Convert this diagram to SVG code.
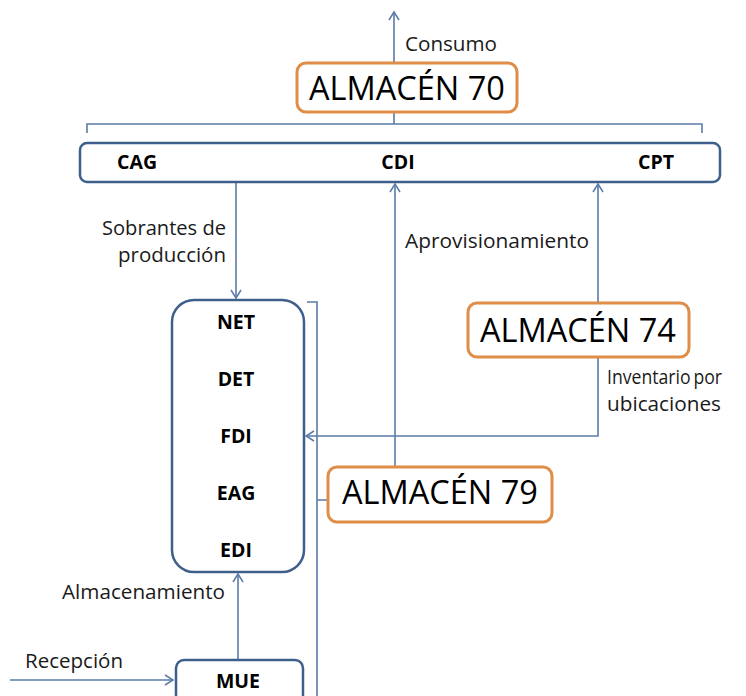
<svg xmlns="http://www.w3.org/2000/svg" width="746" height="696" viewBox="0 0 746 696">
  <defs>
    <marker id="arrow" markerUnits="userSpaceOnUse" markerWidth="14" markerHeight="14" refX="10" refY="6" orient="auto">
      <path d="M2,1 L10,6 L2,11" fill="none" stroke="#5B7BA8" stroke-width="1.5"/>
    </marker>
    <style>
      .box { fill: #ffffff; stroke: #3F5F8B; stroke-width: 2.5; }
      .wh { fill: #ffffff; stroke: #E08D47; stroke-width: 3; }
      .conn { fill: none; stroke: #5B7BA8; stroke-width: 1.6; }
      .lbl { font-family: "Open Sans", "Noto Sans", sans-serif; font-size: 20px; fill: #1a1a1a; }
      .big { font-family: "Open Sans", "Noto Sans", sans-serif; font-size: 32.5px; fill: #000000; }
      .code { font-family: "Open Sans", "Noto Sans", sans-serif; font-size: 19.5px; font-weight: bold; fill: #000000; text-anchor: middle; }
    </style>
  </defs>

  <!-- connectors -->
  <g id="connectors">
    <path class="conn" d="M394,63 V12" marker-end="url(#arrow)"/>
    <path class="conn" d="M87,133 V124 H702 V133 M394,124 V112"/>
    <path class="conn" d="M236,182 V298" marker-end="url(#arrow)"/>
    <path class="conn" d="M395,467 V184" marker-end="url(#arrow)"/>
    <path class="conn" d="M598,303 V184" marker-end="url(#arrow)"/>
    <path class="conn" d="M598,357 V436 H306" marker-end="url(#arrow)"/>
    <path class="conn" d="M307,302 H317 V696 M317,500 H328"/>
    <path class="conn" d="M238,660 V574" marker-end="url(#arrow)"/>
    <path class="conn" d="M10,680 H173" marker-end="url(#arrow)"/>
  </g>

  <!-- connector labels -->
  <g id="labels">
    <text class="lbl" x="405" y="51" textLength="92" lengthAdjust="spacingAndGlyphs">Consumo</text>
    <text class="lbl" x="102" y="235" textLength="124" lengthAdjust="spacingAndGlyphs">Sobrantes de</text>
    <text class="lbl" x="118" y="262" textLength="108" lengthAdjust="spacingAndGlyphs">producción</text>
    <text class="lbl" x="405" y="248" textLength="184" lengthAdjust="spacingAndGlyphs">Aprovisionamiento</text>
    <text class="lbl" x="607" y="384" style="font-size:19.5px; word-spacing:-2px" textLength="115" lengthAdjust="spacingAndGlyphs">Inventario por</text>
    <text class="lbl" x="607" y="411" textLength="114" lengthAdjust="spacingAndGlyphs">ubicaciones</text>
    <text class="lbl" x="62" y="599" textLength="163" lengthAdjust="spacingAndGlyphs">Almacenamiento</text>
    <text class="lbl" x="25" y="668" textLength="98" lengthAdjust="spacingAndGlyphs">Recepción</text>
  </g>

  <g id="almacen70">
    <rect class="wh" x="297" y="63" width="220" height="49" rx="9"/>
    <text class="big" x="407" y="100" text-anchor="middle">ALMACÉN 70</text>
  </g>

  <g id="consumidores">
    <rect class="box" x="80" y="143" width="640" height="39" rx="7"/>
    <text class="code" x="137" y="169">CAG</text>
    <text class="code" x="398" y="169">CDI</text>
    <text class="code" x="656" y="169">CPT</text>
  </g>

  <g id="almacen74">
    <rect class="wh" x="468" y="303" width="221" height="54" rx="9"/>
    <text class="big" x="578" y="342" text-anchor="middle">ALMACÉN 74</text>
  </g>

  <g id="ubicaciones">
    <rect class="box" x="172" y="300" width="132" height="272" rx="22"/>
    <text class="code" x="236" y="329">NET</text>
    <text class="code" x="236" y="386">DET</text>
    <text class="code" x="236" y="443">FDI</text>
    <text class="code" x="236" y="500">EAG</text>
    <text class="code" x="236" y="557">EDI</text>
  </g>

  <g id="almacen79">
    <rect class="wh" x="328" y="467" width="224" height="55" rx="9"/>
    <text class="big" x="440" y="504" text-anchor="middle">ALMACÉN 79</text>
  </g>

  <g id="mue">
    <rect class="box" x="176" y="660" width="127" height="50" rx="8"/>
    <text class="code" x="238" y="688">MUE</text>
  </g>
</svg>
